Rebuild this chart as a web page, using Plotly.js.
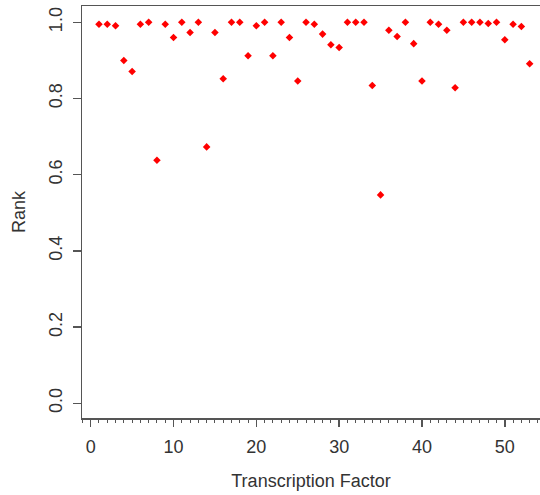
<!DOCTYPE html>
<html>
<head>
<meta charset="utf-8">
<script src="https://cdn.plot.ly/plotly-3.0.1.min.js"></script>
<style>html,body{margin:0;padding:0;background:#fff}</style>
</head>
<body>
<div id="chart" style="width:540px;height:495px"></div>
<script>
const factorIndex = [1,2,3,4,5,6,7,8,9,10,11,12,13,14,15,16,17,18,19,20,21,22,23,24,25,26,27,28,29,30,31,32,33,34,35,36,37,38,39,40,41,42,43,44,45,46,47,48,49,50,51,52,53];
const rankValues = [0.995,0.995,0.991,0.900,0.871,0.995,1.000,0.638,0.995,0.960,
                    1.000,0.973,1.000,0.673,0.973,0.852,1.000,1.000,0.912,0.991,
                    1.000,0.912,1.000,0.960,0.846,1.000,0.995,0.969,0.941,0.934,
                    1.000,1.000,1.000,0.834,0.547,0.979,0.963,1.000,0.944,0.846,
                    1.000,0.995,0.979,0.828,1.000,1.000,1.000,0.997,1.000,0.954,
                    0.995,0.989,0.891];
const xTickVals = [0,10,20,30,40,50];
const yTickVals = [0.0,0.2,0.4,0.6,0.8,1.0];
const yTickText = ["0.0","0.2","0.4","0.6","0.8","1.0"];
const xLabel = "Transcription Factor";
const yLabel = "Rank";

const font = {family: "Liberation Sans, Arial, sans-serif", size: 18, color: "#333"};

Plotly.newPlot("chart", [{
  x: factorIndex,
  y: rankValues,
  type: "scatter",
  mode: "markers",
  marker: {symbol: "diamond", size: 5.8, color: "#ff0000"},
  hoverinfo: "x+y"
}], {
  width: 540,
  height: 495,
  margin: {l: 82, r: 0, t: 6, b: 77, pad: 0},
  paper_bgcolor: "#fff",
  plot_bgcolor: "#fff",
  font: font,
  showlegend: false,
  xaxis: {
    range: [-1.05, 54.25],
    tickmode: "array",
    tickvals: xTickVals,
    ticks: "outside",
    ticklen: 7,
    tickwidth: 1.5,
    tickcolor: "#555",
    showline: true,
    linecolor: "#555",
    linewidth: 1.5,
    mirror: true,
    showgrid: false,
    zeroline: false,
    ticklabelstandoff: 5,
    minor: {dtick: 1, tick0: 0, ticks: "outside", ticklen: 3, tickwidth: 1, tickcolor: "#555", showgrid: false},
    title: {text: xLabel, font: font, standoff: 18}
  },
  yaxis: {
    range: [-0.0386, 1.0428],
    tickmode: "array",
    tickvals: yTickVals,
    ticktext: yTickText,
    tickangle: -90,
    ticks: "outside",
    ticklen: 8,
    tickwidth: 1.5,
    tickcolor: "#555",
    showline: true,
    linecolor: "#555",
    linewidth: 1.5,
    showgrid: false,
    zeroline: false,
    ticklabelstandoff: 3,
    title: {text: yLabel, font: font, standoff: 16}
  }
}, {displayModeBar: false, staticPlot: true});
</script>
</body>
</html>
